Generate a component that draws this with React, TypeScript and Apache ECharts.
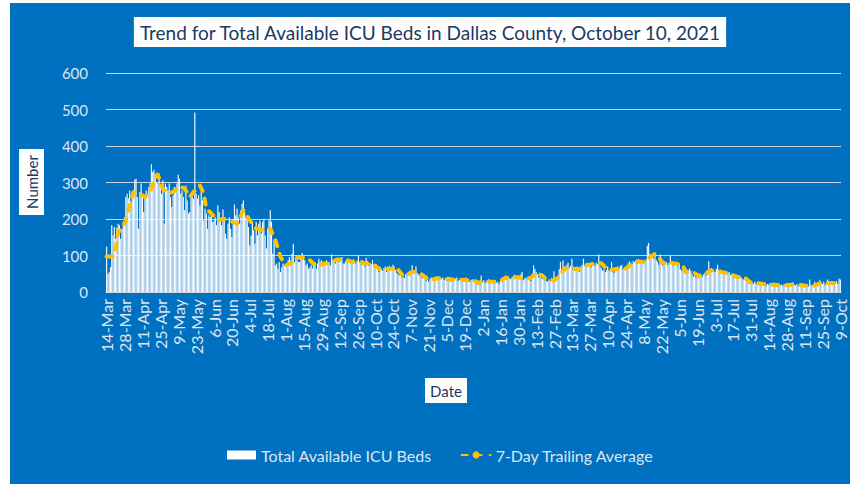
import React, { useEffect, useRef } from 'react';
import * as echarts from 'echarts';

// Daily total available ICU beds, one array per month
const mar2020 = [125, 50, 55, 68, 183, 155, 178, 146, 176, 187, 183, 146, 173, 192, 205, 260, 269, 256];
const apr2020 = [278, 247, 255, 269, 308, 310, 260, 173, 274, 297, 269, 219, 260, 278, 269, 288, 297, 350, 329, 335, 324, 301, 297, 320, 292, 269, 306, 187, 297, 288];
const may2020 = [278, 297, 260, 233, 265, 288, 274, 297, 321, 310, 269, 278, 260, 224, 292, 251, 215, 219, 265, 260, 255, 492, 269, 256, 265, 237, 274, 251, 196, 228, 215];
const jun2020 = [173, 210, 205, 215, 192, 196, 205, 183, 237, 219, 196, 183, 226, 205, 160, 146, 187, 205, 173, 151, 200, 240, 210, 228, 205, 187, 224, 242, 251, 219];
const jul2020 = [205, 205, 178, 128, 155, 192, 169, 132, 192, 155, 187, 196, 160, 192, 201, 155, 119, 173, 196, 224, 192, 105, 142, 73, 78, 64, 82, 55, 68, 78, 73];
const aug2020 = [73, 78, 87, 96, 78, 105, 132, 82, 96, 87, 82, 82, 96, 107, 91, 87, 73, 78, 64, 68, 73, 64, 73, 82, 64, 78, 91, 82, 87, 73, 78];
const sep2020 = [78, 87, 78, 82, 73, 103, 87, 82, 78, 91, 87, 82, 87, 96, 78, 78, 85, 82, 87, 80, 88, 76, 90, 84, 79, 86, 100, 82, 75, 88];
const oct2020 = [82, 70, 94, 85, 72, 80, 76, 88, 70, 66, 75, 60, 55, 68, 62, 58, 66, 70, 55, 68, 72, 62, 65, 75, 70, 60, 52, 48, 45, 50, 40];
const nov2020 = [42, 38, 48, 52, 45, 58, 50, 73, 55, 60, 70, 52, 48, 45, 42, 38, 48, 36, 30, 34, 28, 36, 40, 32, 38, 42, 35, 44, 40, 38];
const dec2020 = [36, 40, 33, 38, 30, 35, 42, 28, 34, 37, 32, 36, 40, 30, 33, 38, 35, 29, 34, 40, 36, 30, 28, 33, 35, 30, 26, 28, 22, 25, 20];
const jan2021 = [45, 28, 32, 25, 30, 26, 35, 28, 24, 30, 27, 32, 25, 28, 22, 30, 35, 40, 38, 45, 36, 42, 38, 35, 40, 44, 48, 36, 40, 42, 38];
const feb2021 = [48, 55, 32, 36, 40, 35, 42, 38, 30, 45, 73, 64, 55, 48, 40, 42, 38, 35, 45, 32, 30, 28, 35, 30, 38, 32, 57, 34];
const mar2021 = [38, 45, 62, 82, 55, 86, 70, 64, 75, 80, 66, 72, 91, 60, 58, 66, 70, 62, 55, 68, 74, 91, 72, 70, 78, 80, 74, 68, 82, 76, 72];
const apr2021 = [80, 76, 103, 70, 65, 58, 62, 55, 60, 70, 58, 62, 82, 56, 52, 60, 64, 70, 66, 72, 74, 62, 68, 70, 66, 78, 84, 80, 76, 85];
const may2021 = [82, 86, 78, 90, 84, 80, 88, 76, 82, 90, 127, 134, 104, 95, 98, 92, 100, 88, 82, 75, 103, 80, 72, 78, 76, 82, 74, 80, 100, 78, 72];
const jun2021 = [80, 76, 82, 70, 78, 62, 58, 66, 55, 50, 60, 52, 64, 58, 48, 42, 46, 40, 44, 38, 50, 46, 42, 48, 52, 45, 60, 84, 55, 66];
const jul2021 = [62, 58, 55, 64, 75, 60, 52, 56, 50, 54, 58, 48, 52, 55, 46, 50, 44, 38, 42, 48, 40, 36, 42, 38, 34, 40, 30, 28, 32, 25, 28];
const aug2021 = [26, 22, 28, 24, 20, 25, 18, 22, 20, 24, 19, 17, 22, 20, 25, 18, 16, 20, 22, 19, 15, 21, 18, 20, 17, 22, 19, 16, 18, 21, 20];
const sep2021 = [24, 27, 20, 18, 22, 16, 19, 17, 14, 18, 20, 16, 18, 15, 34, 20, 18, 22, 28, 24, 20, 26, 32, 24, 22, 28, 20, 25, 34, 22];
const oct2021 = [26, 22, 28, 20, 24, 30, 22, 36, 34];

// 7-day trailing average, read at points along the dashed line
const avgDates = [
  '2020-03-14', '2020-03-19', '2020-03-21', '2020-03-23', '2020-03-26', '2020-03-29', '2020-04-01', '2020-04-04',
  '2020-04-09', '2020-04-13', '2020-04-17', '2020-04-20', '2020-04-23', '2020-04-27', '2020-05-01', '2020-05-05',
  '2020-05-10', '2020-05-14', '2020-05-18', '2020-05-22', '2020-05-26', '2020-05-29', '2020-05-31', '2020-06-04',
  '2020-06-09', '2020-06-13', '2020-06-18', '2020-06-24', '2020-06-29', '2020-07-04', '2020-07-09', '2020-07-15',
  '2020-07-20', '2020-07-24', '2020-07-28', '2020-08-01', '2020-08-05', '2020-08-08', '2020-08-18', '2020-08-25',
  '2020-08-31', '2020-09-05', '2020-09-10', '2020-09-17', '2020-09-22', '2020-09-28', '2020-10-02', '2020-10-07',
  '2020-10-11', '2020-10-15', '2020-10-20', '2020-10-24', '2020-10-26', '2020-10-31', '2020-11-02', '2020-11-08',
  '2020-11-13', '2020-11-18', '2020-11-22', '2020-11-27', '2020-12-04', '2020-12-09', '2020-12-16', '2020-12-22',
  '2020-12-26', '2020-12-30', '2021-01-03', '2021-01-09', '2021-01-15', '2021-01-20', '2021-01-25', '2021-01-30',
  '2021-02-03', '2021-02-09', '2021-02-12', '2021-02-18', '2021-02-21', '2021-02-27', '2021-03-03', '2021-03-06',
  '2021-03-10', '2021-03-14', '2021-03-18', '2021-03-22', '2021-03-27', '2021-04-01', '2021-04-05', '2021-04-10',
  '2021-04-13', '2021-04-18', '2021-04-24', '2021-04-29', '2021-05-03', '2021-05-09', '2021-05-13', '2021-05-17',
  '2021-05-20', '2021-05-23', '2021-05-29', '2021-06-04', '2021-06-07', '2021-06-10', '2021-06-15', '2021-06-20',
  '2021-06-24', '2021-06-29', '2021-07-04', '2021-07-10', '2021-07-13', '2021-07-20', '2021-07-26', '2021-07-30',
  '2021-08-03', '2021-08-10', '2021-08-15', '2021-08-20', '2021-08-26', '2021-09-01', '2021-09-06', '2021-09-12',
  '2021-09-18', '2021-09-24', '2021-09-29', '2021-10-04', '2021-10-09',
];
const avgValues = [
  97, 97, 114, 164, 173, 196, 237, 274,
  269, 260, 274, 301, 322, 283, 269, 274,
  290, 283, 260, 278, 292, 269, 228, 215,
  196, 201, 196, 187, 224, 196, 174, 169,
  174, 142, 96, 73, 78, 94, 94, 70,
  78, 80, 89, 89, 82, 82, 78, 78,
  70, 59, 64, 64, 70, 48, 43, 55,
  55, 41, 32, 37, 37, 34, 34, 32,
  32, 25, 30, 28, 28, 39, 39, 41,
  36, 38, 52, 45, 34, 32, 41, 59,
  68, 65, 61, 73, 75, 79, 79, 61,
  61, 64, 64, 77, 84, 82, 95, 105,
  95, 80, 80, 77, 77, 56, 56, 45,
  45, 59, 59, 53, 53, 41, 41, 27,
  27, 21, 21, 19, 19, 20, 20, 17,
  17, 25, 25, 25, 25,
];

const yTicks = [0, 100, 200, 300, 400, 500, 600];
const monthNames = ['Jan', 'Feb', 'Mar', 'Apr', 'May', 'Jun', 'Jul', 'Aug', 'Sep', 'Oct', 'Nov', 'Dec'];

const monthBlocks: [number, number, number, number[]][] = [
  [2020, 3, 14, mar2020], [2020, 4, 1, apr2020], [2020, 5, 1, may2020], [2020, 6, 1, jun2020],
  [2020, 7, 1, jul2020], [2020, 8, 1, aug2020], [2020, 9, 1, sep2020], [2020, 10, 1, oct2020],
  [2020, 11, 1, nov2020], [2020, 12, 1, dec2020], [2021, 1, 1, jan2021], [2021, 2, 1, feb2021],
  [2021, 3, 1, mar2021], [2021, 4, 1, apr2021], [2021, 5, 1, may2021], [2021, 6, 1, jun2021],
  [2021, 7, 1, jul2021], [2021, 8, 1, aug2021], [2021, 9, 1, sep2021], [2021, 10, 1, oct2021],
];

const pad = (n: number) => (n < 10 ? '0' + n : '' + n);
const dates: string[] = [];
const beds: number[] = [];
monthBlocks.forEach(([y, m, first, vals]) => {
  vals.forEach((v, k) => {
    dates.push(`${y}-${pad(m)}-${pad(first + k)}`);
    beds.push(v);
  });
});

const fmtDate = (iso: string) => {
  const [, m, d] = iso.split('-');
  return `${parseInt(d, 10)}-${monthNames[parseInt(m, 10) - 1]}`;
};

const FONT = 'Lato, "Open Sans", sans-serif';
const LIGHT = '#DCE6F2';
const NAVY = '#203864';

export default function App() {
  const ref = useRef<HTMLDivElement>(null);
  useEffect(() => {
    if (!ref.current) return;
    const chart = echarts.init(ref.current, null, { renderer: 'svg' });
    chart.setOption({
      animation: false,
      backgroundColor: '#0070C0',
      title: {
        text: 'Trend for Total Available ICU Beds in Dallas County, October 10, 2021',
        left: 'center',
        top: 14,
        backgroundColor: '#FFFFFF',
        padding: [4, 5, 3, 5],
        textStyle: { color: NAVY, fontFamily: FONT, fontSize: 19, fontWeight: 'normal', lineHeight: 23 },
      },
      grid: { left: 96, right: 9, top: 70, bottom: 192 },
      legend: {
        left: 217,
        top: 444,
        padding: 0,
        itemWidth: 29,
        itemHeight: 9,
        itemGap: 29,
        textStyle: { color: LIGHT, fontFamily: FONT, fontSize: 16 },
        data: [
          { name: 'Total Available ICU Beds', icon: 'rect' },
          { name: '7-Day Trailing Average' },
        ],
      },
      xAxis: [
        {
          type: 'category',
          data: dates,
          axisLine: { lineStyle: { color: '#D9D9D9', width: 1 } },
          axisTick: { interval: 0, length: 3, alignWithLabel: true, lineStyle: { color: '#BFD3EA', width: 0.6 } },
          axisLabel: {
            interval: 13,
            rotate: 90,
            margin: 7,
            color: LIGHT,
            fontFamily: FONT,
            fontSize: 16,
            formatter: (v: string) => fmtDate(v),
          },
          splitLine: { show: false },
        },
        {
          type: 'category',
          data: dates,
          position: 'bottom',
          axisLine: { show: false },
          axisTick: { interval: 13, length: 6, alignWithLabel: true, lineStyle: { color: '#D9D9D9', width: 1 } },
          axisLabel: { show: false },
          splitLine: { show: false },
        },
      ],
      yAxis: {
        type: 'value',
        min: yTicks[0],
        max: yTicks[yTicks.length - 1],
        interval: 100,
        axisLine: { show: false },
        axisTick: { show: false },
        axisLabel: { color: LIGHT, fontFamily: FONT, fontSize: 15, margin: 18 },
        splitLine: { lineStyle: { color: '#C9D4E2', width: 1 } },
      },
      series: [
        {
          name: 'Total Available ICU Beds',
          type: 'bar',
          xAxisIndex: 0,
          data: beds,
          barCategoryGap: '12%',
          itemStyle: { color: '#FFFFFF' },
        },
        {
          name: '7-Day Trailing Average',
          type: 'line',
          xAxisIndex: 0,
          data: avgDates.map((d, k) => [d, avgValues[k]]),
          symbol: 'none',
          lineStyle: { color: '#FFC000', width: 4, type: [6, 8], cap: 'round', join: 'round' },
          itemStyle: { color: '#FFC000' },
          z: 5,
        },
      ],
      graphic: [
        { type: 'rect', shape: { x: 9, y: 146, width: 25, height: 66 }, style: { fill: '#FFFFFF' } },
        {
          type: 'text',
          x: 21.5,
          y: 179,
          rotation: Math.PI / 2,
          style: {
            text: 'Number',
            fill: NAVY,
            font: `15px ${FONT}`,
            align: 'center',
            verticalAlign: 'middle',
            textAlign: 'center',
            textVerticalAlign: 'middle',
          },
        },
        { type: 'rect', shape: { x: 415, y: 375, width: 42, height: 25 }, style: { fill: '#FFFFFF' } },
        {
          type: 'text',
          x: 436,
          y: 387.5,
          style: {
            text: 'Date',
            fill: NAVY,
            font: `15px ${FONT}`,
            align: 'center',
            verticalAlign: 'middle',
            textAlign: 'center',
            textVerticalAlign: 'middle',
          },
        },
      ],
    });
    return () => chart.dispose();
  }, []);
  return (
    <div
      ref={ref}
      style={{ position: 'absolute', left: 10, top: 3, width: 840, height: 481 }}
    />
  );
}
